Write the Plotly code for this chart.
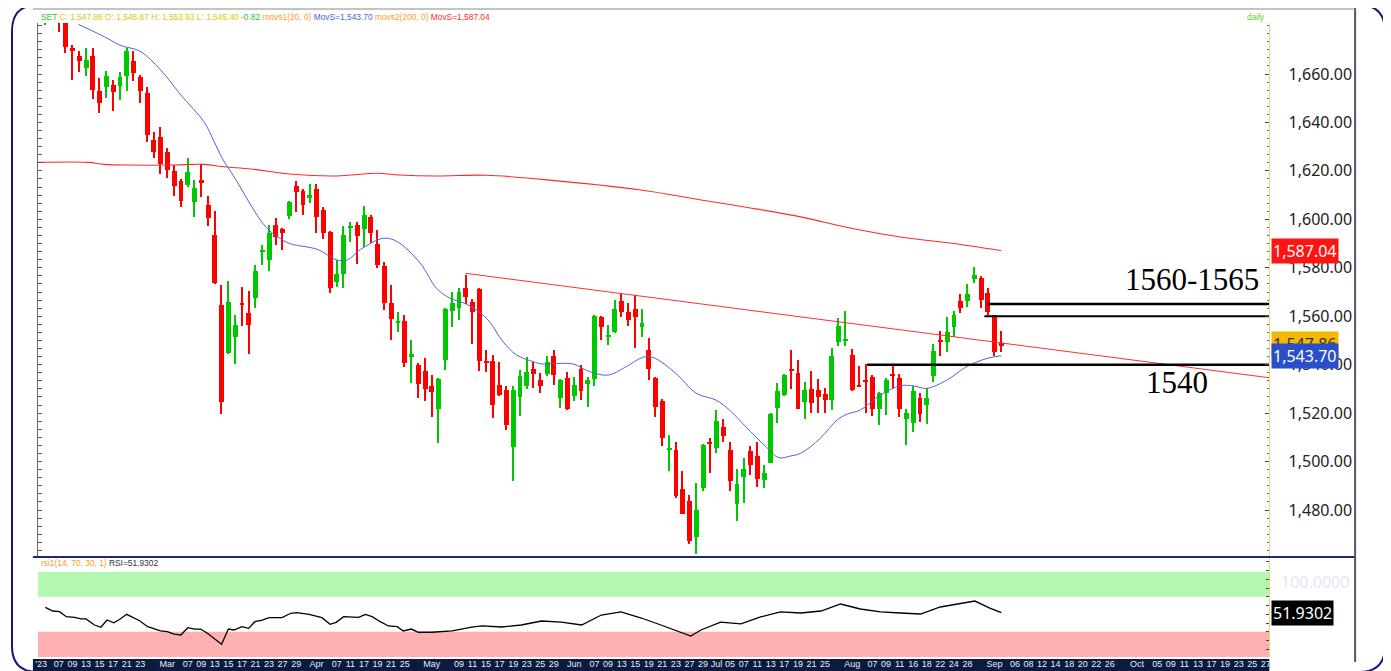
import plotly.graph_objects as go

# The page body has an 8px margin, so the figure is drawn 8px smaller and every
# reference pixel coordinate is shifted by that offset.
OFF = 8
W, H = 1391 - OFF, 671 - OFF
def px(x): return (x - OFF) / W
def py(y): return 1 - (y - OFF) / H

# ---------------- data ----------------
opens = [1682, 1692, 1690, 1684, 1670.4, 1667.6, 1662.4, 1667.5, 1652.8, 1654.8,
         1655.5, 1655.1, 1659.2, 1665.5, 1658.9, 1652.3, 1632.8, 1634, 1628, 1619.9,
         1615.9, 1614.1, 1607.1, 1616, 1605.9, 1593.5, 1564.5, 1544.7, 1551.4, 1565.3,
         1561.2, 1567.6, 1586.6, 1583.2, 1597.6, 1595.9, 1601.5, 1613.8, 1611.7, 1608.7,
         1612.4, 1603.7, 1594.6, 1574.3, 1577.5, 1596.8, 1597.7, 1596, 1601.1, 1589.8,
         1580.7, 1565.3, 1557.1, 1558, 1543.5, 1539.9, 1537.4, 1531, 1521.6, 1542,
         1562.3, 1563.3, 1571.5, 1566, 1571.3, 1541.6, 1541.7, 1531.4, 1529.7, 1505.9,
         1526.8, 1531, 1538.1, 1533.7, 1536.1, 1543.6, 1526.1, 1534.4, 1527.1, 1538.2,
         1532, 1534, 1559.6, 1551.6, 1553.4, 1566.3, 1561.9, 1563, 1555.4, 1546.1,
         1534.4, 1524.8, 1505, 1504.6, 1488.6, 1483.8, 1468.7, 1489, 1508.2, 1505.8,
         1514.3, 1504.7, 1482.4, 1493.6, 1504.4, 1502.1, 1492.5, 1499.6, 1522, 1527.5,
         1538.2, 1536.4, 1524.7, 1529.8, 1529.5, 1527.8, 1525.4, 1549.2, 1550, 1543.9,
         1531.4, 1533.4, 1535, 1521.6, 1528.4, 1536, 1534.4, 1517.5, 1515.8, 1526.1,
         1523.3, 1535.4, 1550.1, 1549.4, 1555.4, 1566.4, 1566.4, 1575.2, 1575.7, 1569.7,
         1560.4, 1548.87]
highs = [1686, 1694, 1692, 1686, 1672, 1669.5, 1670.6, 1670.6, 1658.3, 1661.3,
         1657.5, 1661, 1670.6, 1669.5, 1659.6, 1654.8, 1636, 1638, 1629.6, 1622.6,
         1616.7, 1625.3, 1616.3, 1622.9, 1609.6, 1603.4, 1572.9, 1574.5, 1560.6, 1572.1,
         1570.4, 1581.3, 1589.4, 1597.6, 1600.4, 1596.5, 1607.6, 1616, 1612.4, 1614.6,
         1614.6, 1605.1, 1595.3, 1583.2, 1597.2, 1598.8, 1598.8, 1605.5, 1601.8, 1595.6,
         1582.5, 1572.9, 1561.9, 1560.5, 1550.2, 1540.8, 1542.9, 1535.8, 1534.4, 1563.2,
         1570.1, 1571.5, 1577, 1567, 1571.5, 1546.1, 1544, 1541.3, 1531, 1531.3,
         1537.6, 1543.1, 1541, 1536.5, 1543.6, 1546.1, 1533.9, 1537.1, 1535.1, 1539.9,
         1535.1, 1560.3, 1560.1, 1556.4, 1566.7, 1569.7, 1565.3, 1568.7, 1562.9, 1550.9,
         1534.8, 1525.7, 1510.8, 1507.9, 1495.9, 1486, 1491.1, 1507.1, 1509.6, 1521.3,
         1517.5, 1507.9, 1496.8, 1501.4, 1506.4, 1508.1, 1498.5, 1520.2, 1532.6, 1536.2,
         1546.1, 1541.9, 1532.7, 1537.4, 1534.1, 1530.2, 1546.7, 1559.3, 1562, 1546.3,
         1539.4, 1540.2, 1535.8, 1528.6, 1534.4, 1539.9, 1536.2, 1521.6, 1531.2, 1528.4,
         1530.2, 1548.5, 1553.7, 1559.7, 1562, 1569.1, 1573.2, 1580.2, 1576.6, 1571.5,
         1560.6, 1553.93]
lows = [1680.4, 1685, 1677.5, 1668.5, 1657.5, 1661, 1659.2, 1649.6, 1643.8, 1650,
        1644.8, 1649.4, 1653, 1657.1, 1648, 1632.1, 1625.3, 1618.7, 1617, 1609.6,
        1604.9, 1613.5, 1600.8, 1609.1, 1597.2, 1573.4, 1519.5, 1544.3, 1540.3, 1556,
        1544.3, 1563.5, 1581, 1578.7, 1589.2, 1587.2, 1600.1, 1603.2, 1601.8, 1606.6,
        1594.5, 1591.7, 1569.7, 1572, 1571.8, 1590.8, 1581.4, 1588.5, 1590.1, 1579.8,
        1562.6, 1550.2, 1553.6, 1538.9, 1532.6, 1526.4, 1524.8, 1518.6, 1507.6, 1537.9,
        1555.7, 1558.4, 1565.1, 1548.4, 1537.4, 1536.9, 1517.9, 1527, 1513.2, 1491.8,
        1518.9, 1529.9, 1530.3, 1528.3, 1535.4, 1531.7, 1522, 1521.3, 1525.1, 1525.5,
        1522.7, 1531, 1550.2, 1548.2, 1553, 1559.8, 1556, 1547, 1551.6, 1533.5,
        1518.2, 1506.6, 1496.3, 1484.9, 1478.2, 1466.1, 1461.9, 1487.9, 1495.2, 1503.7,
        1507.9, 1488, 1475.6, 1482.8, 1494.3, 1489.6, 1488.9, 1499.4, 1516.1, 1527.2,
        1529.9, 1521.5, 1517.4, 1520.2, 1519.9, 1519.9, 1521.3, 1547.8, 1547.8, 1529.1,
        1530.6, 1519.9, 1518.8, 1515.1, 1519.2, 1530.2, 1518.2, 1506.9, 1512.3, 1516.5,
        1515.5, 1532.7, 1543.7, 1545.3, 1551.3, 1561.2, 1563.9, 1573.6, 1563.6, 1560.5,
        1543.5, 1545.40]
closes = [1684, 1688, 1682, 1671.3, 1670.0, 1665.5, 1665.8, 1653.5, 1648, 1659.2,
          1652.5, 1658.6, 1669.5, 1660.5, 1653, 1634.9, 1628, 1623, 1620.4, 1613.7,
          1607.6, 1619.4, 1613.1, 1615.4, 1600.6, 1573.8, 1524.6, 1565.9, 1556.5, 1564.7,
          1556.4, 1578.6, 1587.2, 1594.5, 1592.7, 1594.2, 1607, 1611.2, 1605.9, 1610.1,
          1600.8, 1594.5, 1571.8, 1577.5, 1593.5, 1597.4, 1593.3, 1601.8, 1594.5, 1581.2,
          1565.6, 1558.9, 1558.2, 1540.6, 1544.3, 1531.9, 1529.8, 1528.9, 1534, 1562.9,
          1565.3, 1570.1, 1568.1, 1561.9, 1541.7, 1541, 1523.4, 1527.3, 1515.2, 1529.7,
          1535.4, 1536.9, 1536.1, 1531.3, 1541.3, 1535.8, 1533.7, 1521.7, 1531.7, 1529.2,
          1533.7, 1560.1, 1555.7, 1552.2, 1562.9, 1561.9, 1558.4, 1559.8, 1557.4, 1538.1,
          1522.7, 1509.9, 1505.6, 1485.6, 1478.4, 1467.3, 1479.8, 1506.9, 1507.6, 1516.8,
          1510.6, 1492.1, 1490.6, 1497, 1498.5, 1492.7, 1495.2, 1519.6, 1529.2, 1535.8,
          1537.6, 1521.7, 1529.5, 1524.3, 1526.8, 1525.4, 1543.6, 1556.1, 1550.6, 1529.5,
          1531, 1533, 1521.6, 1528.4, 1533.7, 1535.6, 1521.6, 1519.9, 1529.1, 1519.6,
          1526.1, 1545.7, 1549.7, 1553.5, 1560.5, 1563.6, 1569.1, 1577, 1566.7, 1561.9,
          1545.3, 1547.86]

# moving averages (candle index, value)
ma20_idx = [4.9, 8.7, 11.2, 13.9, 17.0, 20.0, 23.4, 24.9, 26.1, 28.3, 30.3, 32.7, 35.2, 36.4,
            40.1, 43.0, 44.5, 46.5, 49.9, 51.9, 55.3, 57.7, 59.7, 62.1, 65.1, 67.5, 69.5, 72.0,
            73.2, 77.8, 80.3, 83.0, 85.7, 88.1, 89.6, 93.0, 96.0, 98.9, 100.9, 103.3, 106.3,
            108.2, 109.9, 111.4, 114.3, 116.8, 118.3, 120.2, 123.2, 126.1, 128.1, 130.0, 133.0,
            135.9, 138.9, 141]
ma20_val = [1680.5, 1675.4, 1671.7, 1669.5, 1661.7, 1651.3, 1640.3, 1632.1, 1625.2, 1615.5,
            1605.9, 1596.3, 1591.1, 1589.7, 1587.6, 1583.2, 1583.2, 1587.6, 1592.2, 1590.8,
            1581.9, 1571.5, 1567.4, 1565.0, 1559.1, 1549.5, 1544.0, 1541.2, 1540.3, 1540.3,
            1537.1, 1535.7, 1539.2, 1543.0, 1543.0, 1536.4, 1528.2, 1525.4, 1521.3, 1514.4,
            1506.1, 1501.6, 1502.3, 1503.4, 1509.6, 1517.2, 1519.6, 1521.3, 1527.5, 1531.3,
            1531.2, 1530.2, 1533.7, 1539.2, 1542.6, 1543.70]
ma200_idx = [-1, 6.3, 8.7, 12.6, 18.5, 23.4, 26.4, 30.3, 36.4, 43.0, 48.9, 52.3, 57.7, 65.1,
             73.2, 87.9, 96.7, 104.0, 111.4, 118.7, 126.1, 133.4, 141]
ma200_val = [1623.5, 1623.5, 1622.7, 1622.4, 1622.4, 1622.7, 1621.7, 1620.8, 1618.6, 1617.9,
             1619.0, 1618.3, 1617.9, 1618.2, 1616.5, 1612.1, 1608.0, 1604.7, 1601.0, 1596.4,
             1592.7, 1590.2, 1587.04]

rsi_idx = [0, 1.1, 2.1, 3.1, 4.3, 5.3, 6.0, 7.25, 8.2, 9.1, 10.1, 11.0, 12.0, 12.9, 13.9, 15.1,
           16.1, 17.0, 18.0, 19.0, 20.0, 21.0, 22.0, 22.9, 23.9, 25.0, 26.0, 27.0, 27.8, 29.0,
           30.0, 30.9, 32.0, 33.0, 34.9, 36.2, 37.1, 38.9, 40.8, 42.0, 42.9, 44.0, 45.2, 46.2,
           47.2, 48.2, 49.4, 50.6, 51.9, 52.8, 54.0, 55.0, 57.0, 60.0, 62.9, 64.4, 67.3, 70.2,
           73.2, 76.1, 79.1, 82.0, 84.9, 87.9, 90.8, 93.8, 95.2, 96.7, 99.6, 102.6, 105.5, 108.4,
           111.4, 114.4, 117.3, 120.2, 123.2, 126.1, 129.1, 132.0, 134.9, 137.1, 139.3, 141]
rsi_val = [57.9, 53.7, 52.9, 47.2, 46.5, 44.6, 44.6, 37.7, 35.1, 43.4, 40.3, 44.2, 49.9, 46.1,
           42.6, 35.8, 32.8, 30.9, 30.1, 27.4, 26.3, 34.6, 33.1, 33.1, 28.2, 21.7, 15.7, 33.1,
           32.0, 35.8, 33.9, 41.5, 43.4, 46.1, 46.1, 51.1, 51.8, 49.9, 46.1, 38.5, 40.8, 47.2,
           47.2, 46.5, 49.9, 47.2, 41.5, 36.6, 35.8, 30.9, 33.1, 29.4, 29.4, 30.9, 35.4, 36.6,
           35.4, 37.7, 42.3, 41.1, 37.7, 49.1, 52.6, 45.7, 37.7, 28.6, 25.1, 32.0, 41.1, 38.9,
           46.9, 52.6, 51.4, 53.7, 61.7, 56.0, 52.6, 51.4, 50.3, 58.3, 61.7, 65.1, 57.1, 51.9302]

trend_idx = [62.0, 180.5]
trend_val = [1577.7, 1534.6]

levels = [1565, 1560, 1540]
level_start = [139.0, 138.5, 121.2]
level_width = [2.5, 2, 2.5]

ytick_vals = [1480, 1500, 1520, 1540, 1560, 1580, 1600, 1620, 1640, 1660]

xtick_pos = [-0.6, 2, 4, 6, 8, 10, 12, 14,
             18, 21, 23, 25, 27, 29, 31, 33, 35, 37,
             40, 43, 45, 47, 49, 51, 53,
             57, 61, 63, 65, 67, 69, 71, 73, 75,
             78, 81, 83, 85, 87, 89, 91, 93, 95, 97,
             99, 101, 103, 105, 107, 109, 111, 113, 115,
             119, 122, 124, 126, 128, 130, 132, 134, 136,
             140, 143, 145, 147, 149, 151, 153, 155, 157,
             161, 164, 166, 168, 170, 172, 174, 176, 178, 180]
xtick_txt = ["'23", "07", "09", "13", "15", "17", "21", "23",
             "Mar", "07", "09", "13", "15", "17", "21", "23", "27", "29",
             "Apr", "07", "11", "17", "19", "21", "25",
             "May", "09", "11", "15", "17", "19", "23", "25", "29",
             "Jun", "07", "09", "13", "15", "19", "21", "23", "27", "29",
             "Jul", "05", "07", "11", "13", "17", "19", "21", "25",
             "Aug", "07", "09", "11", "16", "18", "22", "24", "28",
             "Sep", "06", "08", "12", "14", "18", "20", "22", "26",
             "Oct", "05", "09", "11", "13", "17", "19", "23", "25", "27"]

last_close, last_open, last_high, last_low, chg = 1547.86, 1548.87, 1553.93, 1545.40, -0.82
ma20_last, ma200_last, rsi_last = 1543.70, 1587.04, 51.9302

# ---------------- styling / geometry (reference pixels) ----------------
GREEN = "#00c800"
RED = "#ff0000"
X0_PX, X1_PX = 35, 1270
TOP_PX, BOT_PX = 23, 556
RSI_TOP_PX, RSI_BOT_PX = 558, 657
PX_PER_PT = 2.4222
def price_at(ypx): return 1660 - (ypx - 74) / PX_PER_PT
XR = [(X0_PX - 42.4) / 6.8, (X1_PX - 42.4) / 6.8]

fig = go.Figure()

idx = list(range(len(opens)))
up = [i for i in idx if closes[i] >= opens[i]]
dn = [i for i in idx if closes[i] < opens[i]]
MIN_BODY = 0.7
def body(i):
    lo, hi = sorted((opens[i], closes[i]))
    if hi - lo < MIN_BODY:
        m = (hi + lo) / 2
        lo, hi = m - MIN_BODY / 2, m + MIN_BODY / 2
    return lo, hi - lo

for sel, col in ((up, GREEN), (dn, RED)):
    fig.add_trace(go.Bar(x=sel, base=[lows[i] for i in sel], y=[highs[i] - lows[i] for i in sel],
                         width=0.22, marker=dict(color=col, line=dict(width=0)),
                         xaxis="x", yaxis="y", showlegend=False, hoverinfo="skip"))
    bb = [body(i) for i in sel]
    fig.add_trace(go.Bar(x=sel, base=[b[0] for b in bb], y=[b[1] for b in bb],
                         width=0.72, marker=dict(color=col, line=dict(width=0)),
                         xaxis="x", yaxis="y", showlegend=False, hoverinfo="skip"))

fig.add_trace(go.Scatter(x=ma200_idx, y=ma200_val, mode="lines",
                         line=dict(color="#ff2a2a", width=1.1, shape="spline"),
                         xaxis="x", yaxis="y", showlegend=False, hoverinfo="skip"))
fig.add_trace(go.Scatter(x=ma20_idx, y=ma20_val, mode="lines",
                         line=dict(color="#4a66d6", width=1, shape="spline"),
                         xaxis="x", yaxis="y", showlegend=False, hoverinfo="skip"))
fig.add_trace(go.Scatter(x=trend_idx, y=trend_val, mode="lines",
                         line=dict(color="#ff3030", width=1),
                         xaxis="x", yaxis="y", showlegend=False, hoverinfo="skip"))
for lv, st, wd in zip(levels, level_start, level_width):
    fig.add_trace(go.Scatter(x=[st, XR[1]], y=[lv, lv], mode="lines",
                             line=dict(color="#000000", width=wd),
                             xaxis="x", yaxis="y", showlegend=False, hoverinfo="skip"))

fig.add_trace(go.Scatter(x=rsi_idx, y=rsi_val, mode="lines",
                         line=dict(color="#000000", width=1.3),
                         xaxis="x2", yaxis="y2", showlegend=False, hoverinfo="skip"))

shapes = []
shapes.append(dict(type="rect", xref="x2", yref="y2", x0=XR[0], x1=XR[1], y0=70, y1=98.3,
                   fillcolor="#b3f7b0", line=dict(width=0), layer="below"))
shapes.append(dict(type="rect", xref="x2", yref="y2", x0=XR[0], x1=XR[1], y0=0, y1=30,
                   fillcolor="#ffb0b0", line=dict(width=0), layer="below"))
shapes.append(dict(type="rect", xref="paper", yref="paper", x0=px(30), x1=px(1270),
                   y0=py(671), y1=py(659), fillcolor="#0b1a3e", line=dict(width=0), layer="below"))
shapes.append(dict(type="line", xref="paper", yref="paper", x0=px(30), x1=px(1356),
                   y0=py(557), y1=py(557), line=dict(color="#1c2a78", width=2)))
shapes.append(dict(type="line", xref="paper", yref="paper", x0=px(1356), x1=px(1356),
                   y0=py(8), y1=py(662), line=dict(color="#555566", width=2)))
shapes.append(dict(type="line", xref="paper", yref="paper", x0=px(30), x1=px(1356),
                   y0=py(9), y1=py(9), line=dict(color="#888888", width=1)))
def P(x, y): return f"{px(x):.5f},{py(y):.5f}"
r = 26
L, T, R, B = 9, 5, 1386, 672
path = (f"M {P(L + r, T)} L {P(R - r, T)} Q {P(R, T)} {P(R, T + r)} L {P(R, B - r)} "
        f"Q {P(R, B)} {P(R - r, B)} L {P(L + r, B)} Q {P(L, B)} {P(L, B - r)} "
        f"L {P(L, T + r)} Q {P(L, T)} {P(L + r, T)} Z")
shapes.append(dict(type="path", xref="paper", yref="paper", path=path,
                   line=dict(color="#16167e", width=2)))

ann = []
hdr = (f"<span style='color:#2fbf2f'>SET</span> "
       f"<span style='color:#e0c800'>C: {last_close:,.2f} O: {last_open:,.2f} H: {last_high:,.2f} L: {last_low:,.2f}</span> "
       f"<span style='color:#2fbf2f'>{chg:.2f}</span> "
       f"<span style='color:#ff9a2e'>movs1(20, 0)</span> "
       f"<span style='color:#4a66d6'>MovS={ma20_last:,.2f}</span> "
       f"<span style='color:#ff9a2e'>movs2(200, 0)</span> "
       f"<span style='color:#ff2a2a'>MovS={ma200_last:,.2f}</span>")
ann.append(dict(xref="paper", yref="paper", x=px(36), y=py(17), xanchor="left", yanchor="middle",
                text=hdr, showarrow=False, font=dict(family="Liberation Sans", size=8.4)))
ann.append(dict(xref="paper", yref="paper", x=px(1268), y=py(17), xanchor="right", yanchor="middle",
                text="daily", showarrow=False, font=dict(family="Liberation Sans", size=8.4, color="#66cc33")))
ann.append(dict(xref="paper", yref="paper", x=px(36), y=py(563), xanchor="left", yanchor="middle",
                text=f"<span style='color:#ff9a2e'>rsi1(14, 70, 30, 1)</span> "
                     f"<span style='color:#333333'>RSI={rsi_last:.4f}</span>",
                showarrow=False, font=dict(family="Liberation Sans", size=8.4)))
TAGF = "Noto Sans"
ann.append(dict(xref="paper", yref="y", x=px(1272), y=ma200_last, xanchor="left", yanchor="middle",
                text=f"{ma200_last:,.2f}", showarrow=False, bgcolor="#ff1414", borderpad=1,
                font=dict(family=TAGF, size=16, color="white")))
ann.append(dict(xref="paper", yref="y", x=px(1272), y=last_close + 0.5, xanchor="left", yanchor="middle",
                text=f"{last_close:,.2f}", showarrow=False, bgcolor="#f5b800", borderpad=1,
                font=dict(family=TAGF, size=16, color="#333333")))
ann.append(dict(xref="paper", yref="y", x=px(1272), y=ma20_last, xanchor="left", yanchor="middle",
                text=f"{ma20_last:,.2f}", showarrow=False, bgcolor="#2a4fc8", borderpad=1,
                font=dict(family=TAGF, size=16, color="white")))
ann.append(dict(xref="paper", yref="paper", x=px(1280), y=py(582), xanchor="left", yanchor="middle",
                text="100.0000", showarrow=False, font=dict(family=TAGF, size=16, color="#e2e6f6")))
ann.append(dict(xref="paper", yref="y2", x=px(1272), y=rsi_last, xanchor="left", yanchor="middle",
                text=f"{rsi_last:.4f}", showarrow=False, bgcolor="#000000", borderpad=1,
                font=dict(family=TAGF, size=16, color="white")))
ann.append(dict(xref="paper", yref="paper", x=px(1192), y=py(279), xanchor="center", yanchor="middle",
                text="1560-1565", showarrow=False, font=dict(family="Liberation Serif", size=31, color="#000000")))
ann.append(dict(xref="paper", yref="paper", x=px(1177), y=py(382), xanchor="center", yanchor="middle",
                text="1540", showarrow=False, font=dict(family="Liberation Serif", size=31, color="#000000")))

fig.update_layout(
    width=W, height=H, margin=dict(l=0, r=0, t=0, b=0),
    paper_bgcolor="white", plot_bgcolor="white",
    barmode="overlay", bargap=0, showlegend=False,
    shapes=shapes, annotations=ann,
    xaxis=dict(domain=[px(X0_PX), px(X1_PX)], range=XR, anchor="y", showticklabels=False,
               showgrid=False, zeroline=False, showline=False, ticks=""),
    yaxis=dict(domain=[py(BOT_PX), py(TOP_PX)], range=[price_at(BOT_PX), price_at(TOP_PX)],
               anchor="x", side="right", showgrid=False, zeroline=False,
               tickmode="array", tickvals=ytick_vals, ticktext=[f"{v:,.2f}" for v in ytick_vals],
               tickfont=dict(family=TAGF, size=16, color="#222222"),
               ticks="inside", ticklen=4, tickcolor="#444444", ticklabelstandoff=15,
               showline=True, linecolor="#f2d27a", linewidth=1,
               minor=dict(ticks="inside", ticklen=2, dtick=20 / 6, tick0=1460, tickcolor="#666666")),
    yaxis3=dict(overlaying="y", anchor="x", side="left", range=[price_at(BOT_PX), price_at(TOP_PX)],
                showticklabels=False, showgrid=False, zeroline=False,
                tickmode="linear", tick0=1460, dtick=20 / 6, ticks="inside", ticklen=4,
                tickcolor="#555555", showline=True, linecolor="#666666", linewidth=1),
    xaxis2=dict(domain=[px(X0_PX), px(X1_PX)], range=XR, anchor="y2", matches="x",
                showgrid=False, zeroline=False, showline=False, ticks="",
                tickmode="array", tickvals=xtick_pos, ticktext=xtick_txt, tickangle=0,
                tickfont=dict(family="Liberation Sans", size=9, color="#e8ecf4")),
    yaxis2=dict(domain=[py(RSI_BOT_PX), py(RSI_TOP_PX)],
                range=[(658 - RSI_BOT_PX) / 0.875, (658 - RSI_TOP_PX) / 0.875],
                anchor="x2", side="right", showticklabels=False, showgrid=False, zeroline=False,
                tickmode="linear", tick0=0, dtick=10, ticks="inside", ticklen=3, tickcolor="#444444",
                showline=True, linecolor="#f2d27a"),
)
fig.add_trace(go.Scatter(x=[None], y=[None], xaxis="x", yaxis="y3", showlegend=False))

fig.write_html("out.html")
